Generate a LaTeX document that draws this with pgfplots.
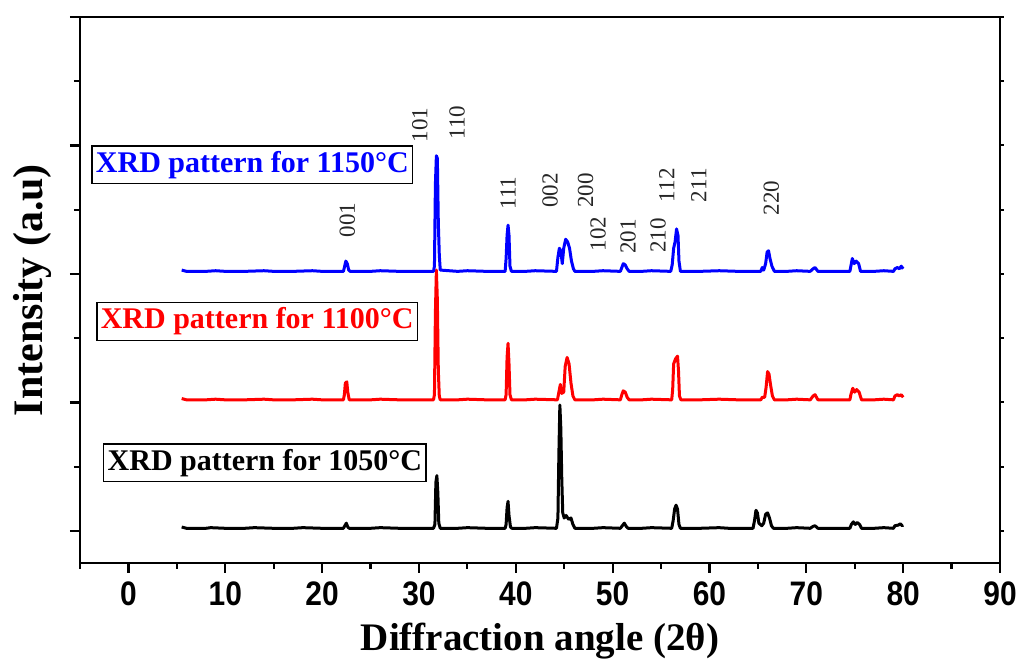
\documentclass[border=0pt]{standalone}
\usepackage{fontspec}
\setmainfont{Liberation Serif}
\newfontfamily\tickfont[FakeStretch=0.88]{Liberation Sans}
\usepackage{pgfplots}
\pgfplotsset{compat=1.18}
\usetikzlibrary{calc}
\definecolor{xblue}{RGB}{0,0,255}
\definecolor{xred}{RGB}{255,0,0}

\begin{document}
\begin{tikzpicture}
\begin{axis}[
  scale only axis, width=460pt, height=273pt,
  xmin=-5, xmax=90, ymin=-0.25, ymax=4,
  xtick={0,10,...,90}, minor xtick={-5,5,...,85},
  ytick={0,1,2,3,4}, minor ytick={0.5,1.5,2.5,3.5}, yticklabels={},
  xtick pos=bottom, ytick pos=left, tick align=outside,
  major tick length=5pt, minor tick length=3pt,
  every tick/.style={black, line width=1.1pt},
  axis line style={line width=1.2pt},
  /pgf/number format/assume math mode=true,
  xticklabel style={font=\tickfont\bfseries\fontsize{17}{17}\selectfont, yshift=-1pt},
  xlabel={Diffraction angle (2θ)},
  ylabel={Intensity (a.u)},
  xlabel style={font=\bfseries\fontsize{19.5}{20}\selectfont, yshift=-1.5pt},
  ylabel style={font=\bfseries\fontsize{21}{21}\selectfont, yshift=-1pt},
  every axis plot/.append style={line width=1.5pt, line join=round},
  clip=false,
]
% 1050 C
\addplot[black] coordinates {
(5.5,0.03)(6,0.02)(8,0.02)(8.5,0.025)(10,0.02)(12,0.02)(13,0.025)(15,0.02)(17,0.02)(18,0.025)(20,0.02)(22.2,0.02)
(22.35,0.04)(22.5,0.06)(22.65,0.03)(22.8,0.02)(25,0.02)(26,0.025)(28,0.02)(30,0.02)(31.5,0.02)
(31.65,0.05)(31.75,0.38)(31.85,0.43)(31.95,0.3)(32.05,0.06)(32.2,0.02)(34,0.02)(35,0.025)(37,0.02)(38.9,0.02)
(39.0,0.05)(39.1,0.18)(39.2,0.23)(39.3,0.12)(39.45,0.03)(39.6,0.02)(41,0.02)(42,0.025)(44.2,0.02)
(44.35,0.1)(44.45,0.6)(44.55,0.98)(44.65,0.8)(44.75,0.4)(44.85,0.14)(45.0,0.1)(45.2,0.12)(45.45,0.09)(45.7,0.1)(45.9,0.05)(46.1,0.02)(48,0.02)(49,0.025)(50.8,0.02)
(51.0,0.04)(51.2,0.06)(51.45,0.03)(51.6,0.02)(53,0.02)(54,0.025)(56.1,0.02)(56.25,0.08)(56.4,0.17)(56.55,0.2)(56.7,0.17)(56.85,0.05)(57.0,0.02)(59,0.02)(61,0.025)(62,0.02)(64.5,0.02)
(64.65,0.08)(64.8,0.16)(64.95,0.14)(65.1,0.06)(65.4,0.04)(65.6,0.06)(65.8,0.13)(66.0,0.14)(66.2,0.1)(66.4,0.04)(66.6,0.02)(68,0.02)(69,0.025)(70.4,0.02)(70.7,0.035)(70.9,0.04)(71.2,0.02)(73,0.02)(74.5,0.02)
(74.65,0.05)(74.85,0.07)(75.05,0.05)(75.25,0.065)(75.5,0.05)(75.7,0.02)(77,0.02)(78,0.025)(79,0.02)(79.15,0.04)(79.5,0.045)(79.7,0.055)(79.9,0.04)(80,0.045)
};
% 1100 C
\addplot[xred] coordinates {
(5.5,1.03)(6,1.02)(8,1.02)(9,1.025)(10,1.02)(12,1.02)(14,1.025)(15,1.02)(17,1.02)(19,1.025)(20,1.02)(22.2,1.02)
(22.3,1.06)(22.4,1.15)(22.55,1.16)(22.65,1.08)(22.8,1.02)(25,1.02)(26,1.025)(28,1.02)(30,1.02)(31.5,1.02)
(31.6,1.06)(31.7,1.7)(31.8,2.03)(31.9,1.8)(32.0,1.25)(32.1,1.05)(32.2,1.02)(34,1.02)(35,1.025)(37,1.02)(38.9,1.02)
(39.0,1.06)(39.1,1.35)(39.2,1.46)(39.3,1.3)(39.4,1.06)(39.55,1.02)(41,1.02)(42,1.025)(44.3,1.02)
(44.45,1.08)(44.6,1.14)(44.75,1.07)(44.95,1.08)(45.1,1.28)(45.3,1.35)(45.5,1.3)(45.7,1.15)(45.9,1.05)(46.1,1.02)(48,1.02)(49,1.025)(50.8,1.02)
(50.95,1.06)(51.1,1.09)(51.3,1.08)(51.5,1.04)(51.7,1.02)(53,1.02)(54,1.025)(56.1,1.02)(56.2,1.1)(56.3,1.3)(56.5,1.34)(56.7,1.36)(56.8,1.25)(56.9,1.05)(57.05,1.02)(59,1.02)(61,1.025)(63,1.02)(65.3,1.02)
(65.45,1.04)(65.7,1.04)(65.85,1.12)(66.0,1.24)(66.15,1.22)(66.3,1.14)(66.5,1.05)(66.7,1.02)(68,1.02)(69,1.025)(70.4,1.02)(70.7,1.05)(70.9,1.06)(71.2,1.02)(73,1.02)(74.5,1.02)
(74.6,1.06)(74.8,1.11)(75.0,1.08)(75.2,1.1)(75.45,1.08)(75.7,1.02)(77,1.02)(78,1.025)(79,1.02)(79.15,1.05)(79.4,1.06)(79.6,1.05)(79.8,1.06)(80,1.04)
};
% 1150 C
\addplot[xblue] coordinates {
(5.5,2.03)(6,2.02)(8,2.02)(9,2.025)(10,2.02)(12,2.02)(14,2.025)(15,2.02)(17,2.02)(19,2.025)(20,2.02)(22.2,2.02)
(22.3,2.05)(22.45,2.1)(22.6,2.08)(22.75,2.03)(22.9,2.02)(25,2.02)(26,2.025)(28,2.02)(30,2.02)(31.5,2.02)
(31.6,2.06)(31.7,2.7)(31.8,2.92)(31.9,2.9)(32.0,2.4)(32.1,2.15)(32.2,2.03)(34,2.02)(35,2.025)(37,2.02)(38.9,2.02)
(39.0,2.12)(39.1,2.3)(39.2,2.38)(39.3,2.3)(39.4,2.06)(39.55,2.02)(41,2.02)(42,2.025)(44.2,2.02)
(44.35,2.13)(44.5,2.2)(44.65,2.18)(44.8,2.08)(44.95,2.2)(45.15,2.27)(45.35,2.25)(45.55,2.2)(45.75,2.1)(45.95,2.04)(46.1,2.02)(48,2.02)(49,2.025)(50.8,2.02)
(50.95,2.05)(51.1,2.08)(51.3,2.07)(51.5,2.04)(51.7,2.02)(53,2.02)(54,2.025)(56.0,2.02)(56.15,2.07)(56.3,2.2)(56.45,2.25)(56.6,2.35)(56.75,2.3)(56.85,2.1)(57.0,2.02)(59,2.02)(61,2.025)(63,2.02)(65.3,2.02)
(65.45,2.05)(65.6,2.03)(65.8,2.08)(65.95,2.17)(66.1,2.18)(66.25,2.12)(66.45,2.06)(66.7,2.02)(68,2.02)(69,2.025)(70.4,2.02)(70.7,2.04)(70.9,2.05)(71.2,2.02)(73,2.02)(74.5,2.02)
(74.6,2.06)(74.75,2.12)(74.95,2.08)(75.15,2.1)(75.4,2.08)(75.6,2.02)(77,2.02)(78,2.025)(79,2.02)(79.15,2.04)(79.4,2.05)(79.6,2.04)(79.8,2.06)(80,2.04)
};
% sample labels
\begin{scope}[every node/.style={draw=black, line width=0.7pt, fill=white, inner xsep=2pt, inner ysep=2.5pt, font=\bfseries\fontsize{15}{15}\selectfont}]
\node[text=xblue] at (axis cs:12.8,2.85) {XRD pattern for 1150°C};
\node[text=xred] at (axis cs:13.3,1.63) {XRD pattern for 1100°C};
\node[text=black, minimum width=161pt] at (axis cs:14.1,0.53) {XRD pattern for 1050°C};
\end{scope}
% peak indices
\begin{scope}[every node/.style={rotate=90, inner sep=0pt, text=black!85, font=\fontsize{11.5}{12}\selectfont}]
\node at (axis cs:22.6,2.42) {001};
\node at (axis cs:30.1,3.16) {101};
\node at (axis cs:33.95,3.18) {110};
\node at (axis cs:39.2,2.63) {111};
\node at (axis cs:43.55,2.65) {002};
\node at (axis cs:47.2,2.65) {200};
\node at (axis cs:48.5,2.31) {102};
\node at (axis cs:51.6,2.29) {201};
\node at (axis cs:54.7,2.30) {210};
\node at (axis cs:55.6,2.69) {112};
\node at (axis cs:58.9,2.69) {211};
\node at (axis cs:66.4,2.59) {220};
\end{scope}
\end{axis}
% short ticks on the right-hand axis line
\begin{axis}[
  scale only axis, width=460pt, height=273pt,
  xmin=-5, xmax=90, ymin=-0.25, ymax=4,
  hide x axis, axis y line*=right,
  ytick={0,1,2,3,4}, minor ytick={0.5,1.5,2.5,3.5}, yticklabels={},
  tick align=outside, major tick length=1.8pt, minor tick length=1.8pt,
  every tick/.style={black, line width=1pt},
  axis line style={line width=1.2pt, -},
]
\end{axis}
\pgfresetboundingbox
\useasboundingbox ($(current axis.south west)+(-40pt,-49.5pt)$) rectangle ($(current axis.north east)+(11pt,8.5pt)$);
\end{tikzpicture}
\end{document}
